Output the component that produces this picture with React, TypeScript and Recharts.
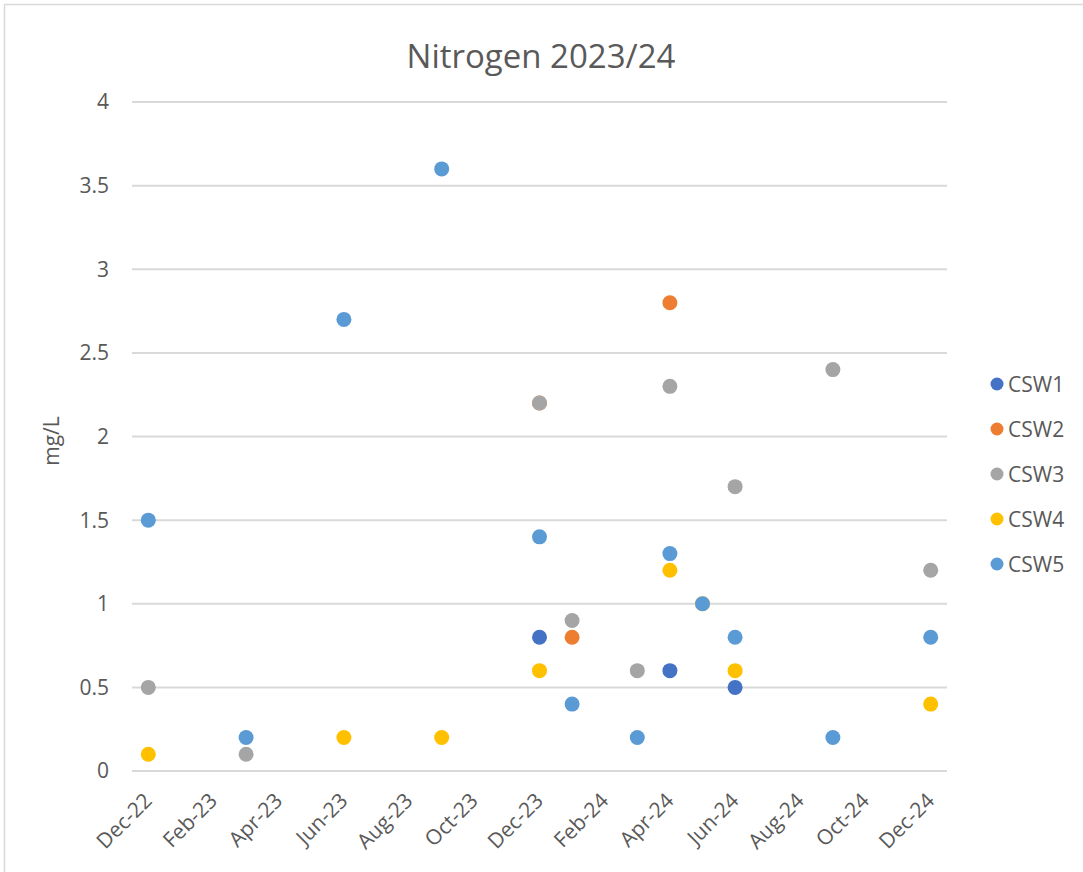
import React from 'react';
import { ScatterChart, Scatter, XAxis, YAxis, CartesianGrid } from 'recharts';

const MONTHS = [
  'Dec-22', 'Jan-23', 'Feb-23', 'Mar-23', 'Apr-23', 'May-23', 'Jun-23', 'Jul-23', 'Aug-23',
  'Sep-23', 'Oct-23', 'Nov-23', 'Dec-23', 'Jan-24', 'Feb-24', 'Mar-24', 'Apr-24', 'May-24',
  'Jun-24', 'Jul-24', 'Aug-24', 'Sep-24', 'Oct-24', 'Nov-24', 'Dec-24',
];
const X_TICK_LABELS = ['Dec-22', 'Feb-23', 'Apr-23', 'Jun-23', 'Aug-23', 'Oct-23', 'Dec-23', 'Feb-24', 'Apr-24', 'Jun-24', 'Aug-24', 'Oct-24', 'Dec-24'];
const Y_TICKS = [0, 0.5, 1, 1.5, 2, 2.5, 3, 3.5, 4];

const CSW1_DATES = ['Dec-23', 'Apr-24', 'Jun-24'];
const CSW1_VALUES = [0.8, 0.6, 0.5];
const CSW2_DATES = ['Dec-23', 'Jan-24', 'Apr-24'];
const CSW2_VALUES = [2.2, 0.8, 2.8];
const CSW3_DATES = ['Dec-22', 'Mar-23', 'Dec-23', 'Jan-24', 'Mar-24', 'Apr-24', 'Jun-24', 'Sep-24', 'Dec-24'];
const CSW3_VALUES = [0.5, 0.1, 2.2, 0.9, 0.6, 2.3, 1.7, 2.4, 1.2];
const CSW4_DATES = ['Dec-22', 'Jun-23', 'Sep-23', 'Dec-23', 'Apr-24', 'May-24', 'Jun-24', 'Dec-24'];
const CSW4_VALUES = [0.1, 0.2, 0.2, 0.6, 1.2, 1.0, 0.6, 0.4];
const CSW5_DATES = ['Dec-22', 'Mar-23', 'Jun-23', 'Sep-23', 'Dec-23', 'Jan-24', 'Mar-24', 'Apr-24', 'May-24', 'Jun-24', 'Sep-24', 'Dec-24'];
const CSW5_VALUES = [1.5, 0.2, 2.7, 3.6, 1.4, 0.4, 0.2, 1.3, 1.0, 0.8, 0.2, 0.8];

const SERIES_NAMES = ['CSW1', 'CSW2', 'CSW3', 'CSW4', 'CSW5'];
const SERIES_COLORS = ['#4472C4', '#ED7D31', '#A5A5A5', '#FFC000', '#5B9BD5'];
const SERIES_DATES = [CSW1_DATES, CSW2_DATES, CSW3_DATES, CSW4_DATES, CSW5_DATES];
const SERIES_VALUES = [CSW1_VALUES, CSW2_VALUES, CSW3_VALUES, CSW4_VALUES, CSW5_VALUES];

const FONT = '"Open Sans", "Noto Sans", sans-serif';
const TEXT = '#595959';

const series = SERIES_NAMES.map((name, i) => ({
  name,
  color: SERIES_COLORS[i],
  data: SERIES_DATES[i].map((d, j) => ({ m: MONTHS.indexOf(d), v: SERIES_VALUES[i][j] })),
}));

const xTicks = X_TICK_LABELS.map((l) => MONTHS.indexOf(l));

const XTick = (props: any) => {
  const { x, y, payload } = props;
  return (
    <g transform={`translate(${x + 5},${y + 31})`}>
      <text transform="rotate(-45)" textAnchor="end" fill={TEXT} fontSize={21} fontFamily={FONT}>
        {MONTHS[payload.value]}
      </text>
    </g>
  );
};

export default function App() {
  return (
    <div style={{ position: 'absolute', left: 0, top: 0, width: 1083, height: 872, background: '#fff' }}>
      <ScatterChart width={1083} height={872} margin={{ top: 102, right: 136, bottom: 21, left: 36 }}>
        <CartesianGrid vertical={false} stroke="#d9d9d9" strokeWidth={2} />
        <XAxis
          type="number"
          dataKey="m"
          domain={[-0.5, 24.5]}
          ticks={xTicks}
          interval={0}
          axisLine={false}
          tickLine={false}
          tickSize={0}
          tickMargin={0}
          height={80}
          tick={<XTick />}
        />
        <YAxis
          type="number"
          dataKey="v"
          domain={[0, 4]}
          ticks={Y_TICKS}
          interval={0}
          axisLine={false}
          tickLine={false}
          tickSize={0}
          tickMargin={23}
          width={96}
          tick={{ fill: TEXT, fontSize: 21, fontFamily: FONT }}
        />
        {series.map((s) => (
          <Scatter
            key={s.name}
            name={s.name}
            data={s.data}
            fill={s.color}
            isAnimationActive={false}
            shape={(p: any) => <circle cx={p.cx} cy={p.cy} r={7.5} fill={s.color} />}
          />
        ))}
      </ScatterChart>
      <svg
        width={1083}
        height={872}
        style={{ position: 'absolute', left: 0, top: 0, pointerEvents: 'none' }}
      >
        <rect x={4.5} y={4.5} width={1200} height={1000} fill="none" stroke="#d9d9d9" strokeWidth={1.5} />
        <text x={541} y={68} textAnchor="middle" fill={TEXT} fontSize={33} fontFamily={FONT}>
          Nitrogen 2023/24
        </text>
        <text
          x={59}
          y={441}
          textAnchor="middle"
          transform="rotate(-90, 59, 441)"
          fill={TEXT}
          fontSize={21}
          fontFamily={FONT}
        >
          mg/L
        </text>
        {series.map((s, i) => (
          <g key={s.name}>
            <circle cx={997} cy={384 + i * 45} r={6.5} fill={s.color} />
            <text x={1008} y={384 + i * 45 + 7.5} fill={TEXT} fontSize={21} fontFamily={FONT}>
              {s.name}
            </text>
          </g>
        ))}
      </svg>
    </div>
  );
}
